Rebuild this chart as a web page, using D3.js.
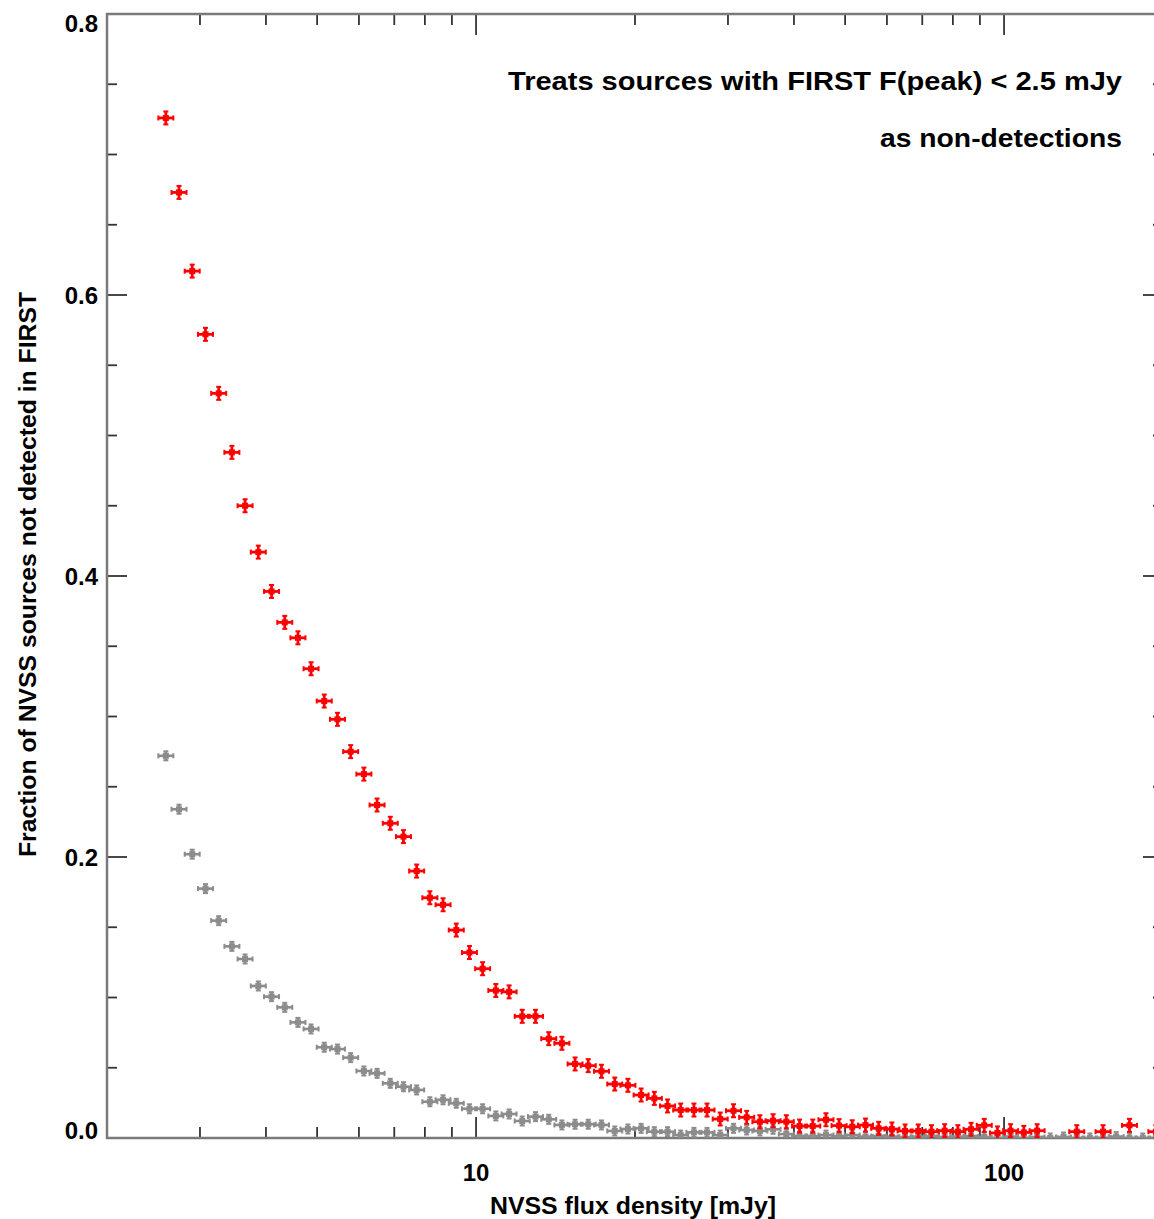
<!DOCTYPE html>
<html>
<head>
<meta charset="utf-8">
<script src="https://cdn.jsdelivr.net/npm/d3@7"></script>
<style>
  body { margin: 0; background: #fff; }
  text { font-family: "Liberation Sans", Arial, Helvetica, sans-serif; font-weight: bold; fill: #000; }
</style>
</head>
<body>
<div id="plot"></div>
<script>
// NVSS flux bin centres [mJy]
var flux = [2.585, 2.738, 2.900, 3.073, 3.255, 3.448, 3.652, 3.869, 4.099, 4.342,
     4.599, 4.870, 5.158, 5.464, 5.788, 6.131, 6.494, 6.879, 7.286, 7.718,
     8.175, 8.660, 9.173, 9.716, 10.29, 10.90, 11.55, 12.23, 12.96, 13.73,
     14.54, 15.40, 16.31, 17.28, 18.31, 19.39, 20.54, 21.76, 23.05, 24.41,
     25.86, 27.38, 29.00, 30.73, 32.55, 34.48, 36.52, 38.69, 40.99, 43.42,
     45.99, 48.70, 51.58, 54.64, 57.88, 61.31, 64.94, 68.79, 72.86, 77.18,
     81.75, 86.60, 91.73, 97.16, 102.9, 109.0, 115.5, 122.3, 129.6, 137.3,
     145.4, 154.0, 163.1, 172.8, 183.1, 193.9];

// fraction not detected, F(peak) < 2.5 mJy treated as non-detection (red)
var fracPeak = [0.726, 0.673, 0.617, 0.572, 0.530, 0.488, 0.450, 0.417, 0.389, 0.367,
     0.356, 0.334, 0.311, 0.298, 0.275, 0.259, 0.237, 0.224, 0.2145, 0.190,
     0.171, 0.166, 0.148, 0.132, 0.1205, 0.105, 0.104, 0.0866, 0.0866, 0.0707,
     0.0674, 0.0527, 0.0515, 0.0475, 0.0384, 0.0375, 0.0306, 0.0282, 0.0228, 0.0199,
     0.0199, 0.0199, 0.0135, 0.0194, 0.0147, 0.0116, 0.0123, 0.0116, 0.0085, 0.0085,
     0.013, 0.0088, 0.008, 0.0092, 0.0069, 0.0064, 0.005, 0.005, 0.0045, 0.0052,
     0.0045, 0.0062, 0.009, 0.0036, 0.0052, 0.004, 0.0052, null, null, 0.0045,
     null, 0.0045, null, 0.009, null, 0.0045];

// plain non-detected fraction (grey)
var fracAll = [0.272, 0.234, 0.202, 0.1775, 0.1547, 0.1364, 0.1274, 0.1082, 0.1006, 0.093,
     0.0823, 0.0776, 0.0646, 0.0633, 0.0572, 0.0477, 0.046, 0.0389, 0.0365, 0.0342,
     0.0258, 0.0272, 0.0247, 0.0208, 0.0208, 0.0157, 0.0171, 0.0121, 0.0152, 0.0133,
     0.0093, 0.0098, 0.0098, 0.0093, 0.005, 0.0064, 0.0069, 0.0045, 0.0045, 0.0021,
     0.004, 0.004, 0.0021, 0.0069, 0.0057, 0.005, 0.0062, 0.0028, 0.0014, 0.0014,
     0.0021, 0.0014, 0.0021, 0.001, 0.0014, 0.001, 0.0007, 0.001, 0.0014, 0.0007,
     0.001, 0.0014, 0.0007, 0, 0.001, 0, 0.0007, 0, 0.0007, 0,
     0, 0, 0.001, 0, 0, 0];

var yTicks = [0, 0.2, 0.4, 0.6, 0.8];
var xTicks = [10, 100];
var noteLines = ["Treats sources with FIRST F(peak) < 2.5 mJy", "as non-detections"];

var chartWidth = 1154;
var chartHeight = 1219;
const margin = {top: 14, left: 107, right: 1163, bottom: 1138};

var svg = d3.select("#plot")
     .append("svg")
     .attr("width", chartWidth)
     .attr("height", chartHeight);

svg.append("rect").attr("width", chartWidth).attr("height", chartHeight).attr("fill", "#fff");

var x = d3.scaleLog().domain([2, 200]).range([margin.left, margin.right]);
var y = d3.scaleLinear().domain([0, 0.8]).range([margin.bottom, margin.top]);

svg.append("clipPath").attr("id", "clip")
     .append("rect")
     .attr("x", margin.left).attr("y", margin.top)
     .attr("width", margin.right - margin.left)
     .attr("height", margin.bottom - margin.top);

// minor + major ticks
var xMinor = [];
[1, 10, 100].forEach(function(d) {
     for (var k = 2; k <= 9; k++) { var v = d * k; if (v > 2 && v < 200) xMinor.push(v); }
});
var yMinor = d3.range(0, 17).map(function(i) { return i * 0.05; }).filter(function(v) { return yTicks.indexOf(+v.toFixed(2)) < 0; });

var ticks = svg.append("g").attr("stroke", "#333").attr("stroke-width", 1.8);

function tickX(v, len) {
     ticks.append("line").attr("x1", x(v)).attr("x2", x(v)).attr("y1", margin.bottom).attr("y2", margin.bottom - len);
     ticks.append("line").attr("x1", x(v)).attr("x2", x(v)).attr("y1", margin.top).attr("y2", margin.top + len);
}
function tickY(v, len) {
     ticks.append("line").attr("y1", y(v)).attr("y2", y(v)).attr("x1", margin.left).attr("x2", margin.left + len);
     ticks.append("line").attr("y1", y(v)).attr("y2", y(v)).attr("x1", margin.right).attr("x2", margin.right - len);
}
xMinor.forEach(function(v) { tickX(v, 11); });
xTicks.forEach(function(v) { tickX(v, 21); });
yMinor.forEach(function(v) { tickY(v, 10); });
yTicks.forEach(function(v) { tickY(v, 20); });

// frame
svg.append("rect")
     .attr("x", margin.left).attr("y", margin.top)
     .attr("width", margin.right - margin.left)
     .attr("height", margin.bottom - margin.top)
     .attr("fill", "none")
     .attr("stroke", "#7a7a7a")
     .attr("stroke-width", 2.5);

// tick labels
svg.selectAll(".ylab")
     .data(yTicks)
     .enter()
     .append("text")
     .attr("class", "ylab")
     .attr("x", 98)
     .attr("y", function(d) {
          var shift = d == 0.8 ? 18 : (d == 0 ? 1 : 9);
          return y(d) + shift;
     })
     .attr("text-anchor", "end")
     .style("font-size", "24px")
     .text(function(d) { return d.toFixed(1); });

svg.selectAll(".xlab")
     .data(xTicks)
     .enter()
     .append("text")
     .attr("class", "xlab")
     .attr("x", function(d) { return x(d); })
     .attr("y", 1181)
     .attr("text-anchor", "middle")
     .style("font-size", "24px")
     .text(function(d) { return d; });

svg.append("text")
     .attr("x", 490)
     .attr("y", 1214)
     .attr("textLength", 286)
     .attr("lengthAdjust", "spacingAndGlyphs")
     .style("font-size", "24px")
     .text("NVSS flux density [mJy]");

svg.append("text")
     .attr("transform", "translate(36,857) rotate(-90)")
     .attr("textLength", 565)
     .attr("lengthAdjust", "spacingAndGlyphs")
     .style("font-size", "24px")
     .text("Fraction of NVSS sources not detected in FIRST");

var noteStart = [508, 880];
var noteLen = [614, 242];
svg.selectAll(".note")
     .data(noteLines)
     .enter()
     .append("text")
     .attr("class", "note")
     .attr("x", function(d, i) { return noteStart[i]; })
     .attr("y", function(d, i) { return 90 + i * 57; })
     .attr("textLength", function(d, i) { return noteLen[i]; })
     .attr("lengthAdjust", "spacingAndGlyphs")
     .style("font-size", "25px")
     .text(function(d) { return d; });

// error-bar style markers
function drawSeries(values, color, hw, hh, sw) {
     var pts = flux.map(function(f, i) { return {f: f, v: values[i]}; })
          .filter(function(d) { return d.v !== null; });

     var g = svg.append("g").attr("clip-path", "url(#clip)")
          .selectAll("g")
          .data(pts)
          .enter()
          .append("g")
          .attr("transform", function(d) { return "translate(" + x(d.f) + "," + y(d.v) + ")"; })
          .attr("stroke", color);

     g.append("line").attr("x1", -hw).attr("x2", hw).attr("stroke-width", sw);
     g.append("line").attr("y1", -hh).attr("y2", hh).attr("stroke-width", sw);
     g.append("line").attr("x1", -hw).attr("x2", -hw).attr("y1", -2.5).attr("y2", 2.5).attr("stroke-width", 2);
     g.append("line").attr("x1", hw).attr("x2", hw).attr("y1", -2.5).attr("y2", 2.5).attr("stroke-width", 2);
     g.append("line").attr("y1", -hh).attr("y2", -hh).attr("x1", -2.5).attr("x2", 2.5).attr("stroke-width", 2);
     g.append("line").attr("y1", hh).attr("y2", hh).attr("x1", -2.5).attr("x2", 2.5).attr("stroke-width", 2);
     g.append("rect").attr("x", -3).attr("y", -3).attr("width", 6).attr("height", 6)
          .attr("fill", color).attr("stroke", "none");
}

drawSeries(fracAll, "#8c8c8c", 7.5, 4.5, 2.6);
drawSeries(fracPeak, "#ff0000", 7.5, 6.5, 2.8);
</script>
</body>
</html>
